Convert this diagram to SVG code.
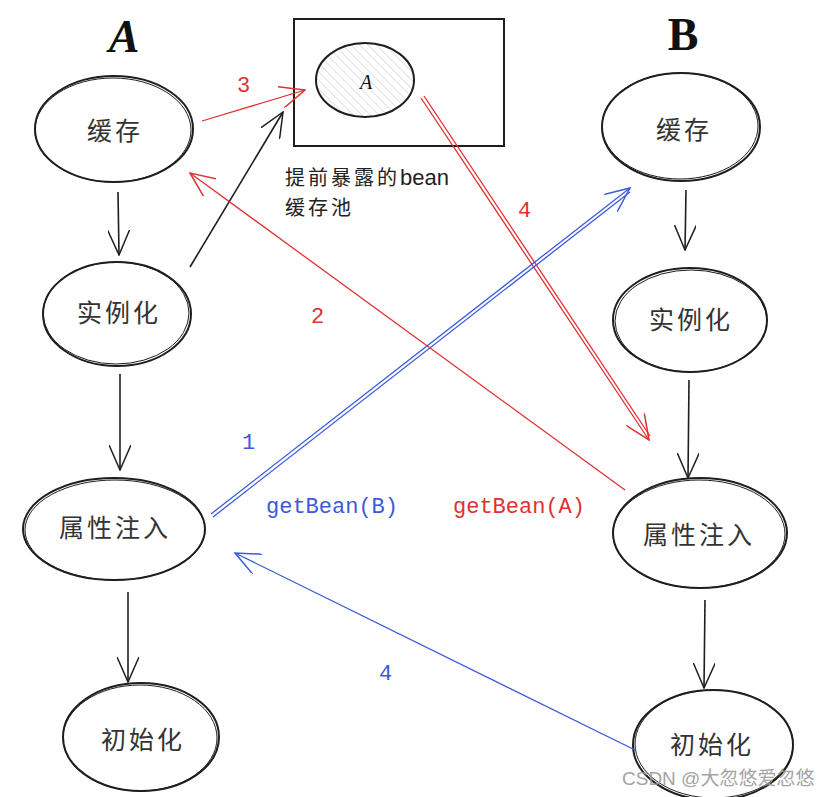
<svg xmlns="http://www.w3.org/2000/svg" width="830" height="797" viewBox="0 0 830 797">
<defs>
<style>
.node{fill:none;stroke:#1e1e1e;stroke-width:2}
.node2{fill:none;stroke:#1e1e1e;stroke-width:1}
.lbl{font-family:"Liberation Sans","Noto Sans CJK SC",sans-serif;font-size:25px;letter-spacing:3px;fill:#333;text-anchor:middle;dominant-baseline:central}
.blk{stroke:#1e1e1e;stroke-width:1.6;fill:none}
.red{stroke:#e03131;stroke-width:1.3;fill:none}
.blue{stroke:#3b5bdb;stroke-width:1.3;fill:none}
.rt{font-family:"Liberation Mono","Noto Sans CJK SC",monospace;font-size:22px;fill:#e03131}
.bt{font-family:"Liberation Mono","Noto Sans CJK SC",monospace;font-size:22px;fill:#3b5bdb}
</style>
<pattern id="hatch" width="6" height="6" patternUnits="userSpaceOnUse" patternTransform="rotate(-45)">
<line x1="0" y1="0" x2="0" y2="6" stroke="#c9ccd1" stroke-width="1.2"/>
</pattern>
<marker id="ar" markerWidth="26" markerHeight="22" refX="25" refY="11" orient="auto" markerUnits="userSpaceOnUse" viewBox="0 0 26 22">
<path d="M0,0 L25,11 L0,22" fill="none" stroke="#e03131" stroke-width="1.5"/>
</marker>
<marker id="ab" markerWidth="26" markerHeight="22" refX="25" refY="11" orient="auto" markerUnits="userSpaceOnUse" viewBox="0 0 26 22">
<path d="M0,0 L25,11 L0,22" fill="none" stroke="#3b5bdb" stroke-width="1.5"/>
</marker>
<marker id="av" markerWidth="26" markerHeight="22" refX="25" refY="11" orient="auto" markerUnits="userSpaceOnUse" viewBox="0 0 26 22">
<path d="M0,0 L25,11 L0,22" fill="none" stroke="#1e1e1e" stroke-width="1.5"/>
</marker>
</defs>
<rect width="830" height="797" fill="#ffffff"/>

<text x="124" y="52" font-family="Liberation Serif,serif" font-style="italic" font-weight="bold" font-size="46" fill="#111" text-anchor="middle">A</text>
<text x="683" y="50" font-family="Liberation Serif,serif" font-weight="bold" font-size="46" fill="#111" text-anchor="middle">B</text>

<g id="pool">
<rect x="294" y="19" width="210" height="127" class="node"/>
<ellipse cx="365" cy="80" rx="49" ry="37" fill="url(#hatch)" stroke="#1e1e1e" stroke-width="2"/>
<text x="366" y="82" font-family="Liberation Serif,serif" font-style="italic" font-size="20" fill="#111" text-anchor="middle" dominant-baseline="central">A</text>
<text x="285" y="185" font-family="Liberation Sans,'Noto Sans CJK SC',sans-serif" font-size="20" fill="#222"><tspan letter-spacing="3">提前暴露的</tspan><tspan font-size="22">bean</tspan></text>
<text x="285" y="215" font-family="Liberation Sans,'Noto Sans CJK SC',sans-serif" font-size="20" letter-spacing="3" fill="#222">缓存池</text>
</g>

<g id="a-cache"><ellipse cx="114" cy="129" rx="79" ry="53" class="node"/><ellipse cx="113" cy="130" rx="78" ry="52" class="node2"/><text x="115" y="131" class="lbl">缓存</text></g>
<g id="a-inst"><ellipse cx="117" cy="314" rx="74" ry="52" class="node"/><ellipse cx="116" cy="313" rx="73" ry="51" class="node2"/><text x="119" y="313" class="lbl">实例化</text></g>
<g id="a-inject"><ellipse cx="114" cy="529" rx="91" ry="51" class="node"/><ellipse cx="115" cy="530" rx="90" ry="50" class="node2"/><text x="115" y="528" class="lbl">属性注入</text></g>
<g id="a-init"><ellipse cx="141" cy="737" rx="78" ry="54" class="node"/><ellipse cx="140" cy="738" rx="77" ry="53" class="node2"/><text x="143" y="740" class="lbl">初始化</text></g>

<g id="b-cache"><ellipse cx="681" cy="127" rx="79" ry="54" class="node"/><ellipse cx="680" cy="126" rx="78" ry="53" class="node2"/><text x="684" y="130" class="lbl">缓存</text></g>
<g id="b-inst"><ellipse cx="690" cy="320" rx="77" ry="52" class="node"/><ellipse cx="691" cy="321" rx="76" ry="51" class="node2"/><text x="691" y="320" class="lbl">实例化</text></g>
<g id="b-inject"><ellipse cx="700" cy="533" rx="87" ry="55" class="node"/><ellipse cx="699" cy="534" rx="86" ry="54" class="node2"/><text x="699" y="535" class="lbl">属性注入</text></g>
<g id="b-init"><ellipse cx="713" cy="745" rx="80" ry="55" class="node"/><ellipse cx="714" cy="744" rx="79" ry="54" class="node2"/><text x="712" y="745" class="lbl">初始化</text></g>

<g id="connectors">
<line x1="118" y1="192" x2="119" y2="255" class="blk" marker-end="url(#av)"/>
<line x1="120" y1="374" x2="120" y2="470" class="blk" marker-end="url(#av)"/>
<line x1="128" y1="592" x2="128" y2="682" class="blk" marker-end="url(#av)"/>
<line x1="686" y1="190" x2="685" y2="250" class="blk" marker-end="url(#av)"/>
<line x1="689" y1="380" x2="688" y2="478" class="blk" stroke-width="2.2" marker-end="url(#av)"/>
<line x1="705" y1="600" x2="704" y2="688" class="blk" stroke-width="2.2" marker-end="url(#av)"/>
<line x1="190" y1="267" x2="283" y2="112" class="blk" stroke-width="2.4" marker-end="url(#av)"/>

<line x1="202" y1="121" x2="305" y2="90" class="red" stroke-width="1.8" marker-end="url(#ar)"/>
<line x1="625" y1="490" x2="190" y2="173" class="red" marker-end="url(#ar)"/>
<line x1="421" y1="98" x2="649" y2="440" class="red" marker-end="url(#ar)"/>
<line x1="424" y1="96" x2="650" y2="436" class="red"/>

<line x1="211" y1="514" x2="630" y2="188" class="blue" marker-end="url(#ab)"/>
<line x1="213" y1="517" x2="630" y2="192" class="blue"/>
<line x1="635" y1="750" x2="235" y2="553" class="blue" marker-end="url(#ab)"/>
</g>

<text x="237" y="92" class="rt">3</text>
<text x="311" y="323" class="rt">2</text>
<text x="518" y="217" class="rt">4</text>
<text x="453" y="513" class="rt">getBean(A)</text>
<text x="242" y="449" class="bt">1</text>
<text x="379" y="680" class="bt">4</text>
<text x="266" y="513" class="bt">getBean(B)</text>

<text x="622" y="785" font-family="Liberation Sans,'Noto Sans CJK SC',sans-serif" font-size="19" fill="#9a9a9a" opacity="0.9">CSDN @大忽悠爱忽悠</text>
</svg>
